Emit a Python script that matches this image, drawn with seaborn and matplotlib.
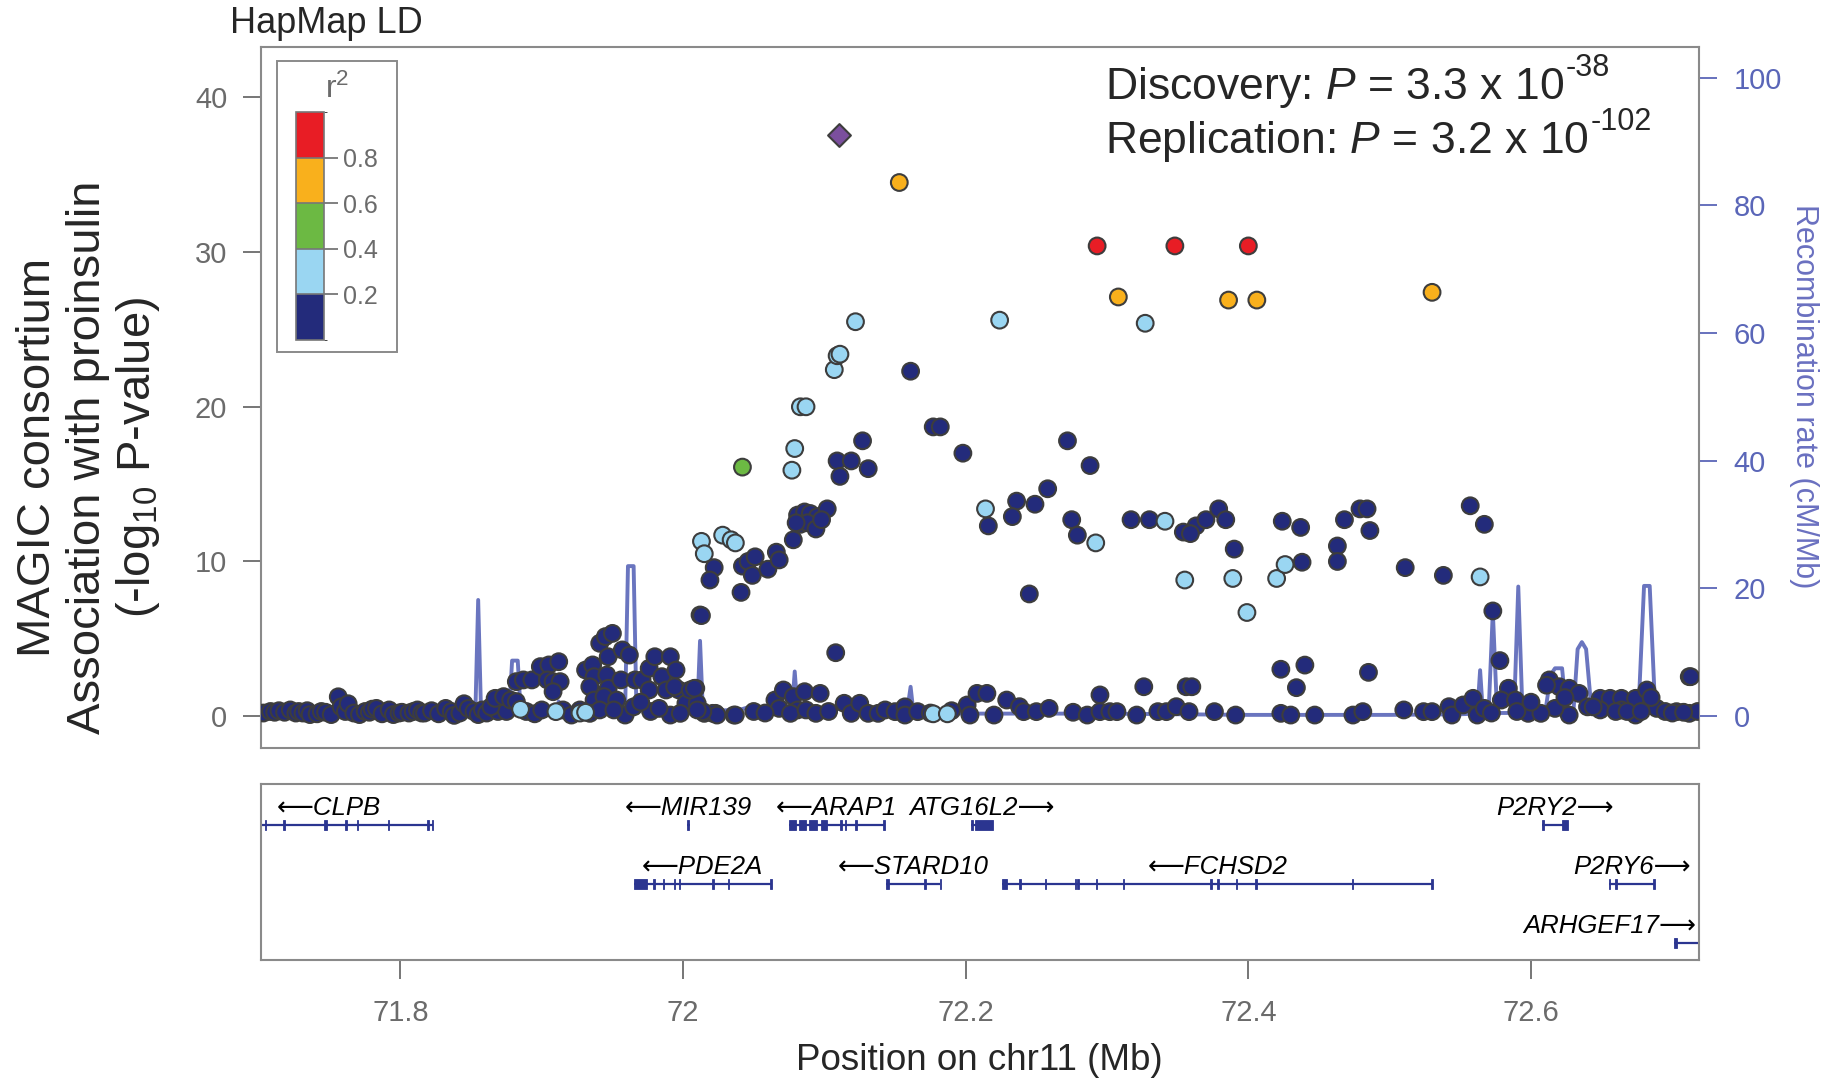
import pandas as pd
import seaborn as sns
import matplotlib.pyplot as plt
from matplotlib.colors import ListedColormap, BoundaryNorm
from matplotlib.cm import ScalarMappable
from matplotlib.patches import Rectangle

# LD (r2) classes and their colours
ld_labels = ["<0.2", "0.2-0.4", "0.4-0.6", "0.6-0.8", ">0.8"]
ld_colors = ["#232b7b", "#9ad6f2", "#6cb943", "#f9b01c", "#e81d25"]
ld_breaks = [0.0, 0.2, 0.4, 0.6, 0.8, 1.0]

# (position Mb, -log10 P)
snps_low_left = [
    (71.703, 0.2), (71.708, 0.3), (71.711, 0.25), (71.714, 0.35), (71.718, 0.25), (71.722, 0.4),
    (71.726, 0.2), (71.728, 0.3), (71.731, 0.2), (71.734, 0.35), (71.736, 0.1), (71.741, 0.15),
    (71.744, 0.3), (71.747, 0.25), (71.751, 0.1), (71.756, 1.25), (71.758, 0.6), (71.761, 0.3),
    (71.763, 0.8), (71.767, 0.2), (71.771, 0.1), (71.775, 0.3), (71.778, 0.25), (71.780, 0.45),
    (71.783, 0.5), (71.787, 0.15), (71.792, 0.4), (71.795, 0.1), (71.799, 0.2), (71.801, 0.25),
    (71.806, 0.2), (71.809, 0.3), (71.812, 0.4), (71.815, 0.2), (71.817, 0.2), (71.822, 0.35),
    (71.827, 0.15), (71.832, 0.5), (71.836, 0.3), (71.838, 0.05), (71.842, 0.2), (71.845, 0.8),
    (71.848, 0.5), (71.852, 0.3), (71.855, 0.1), (71.858, 0.4), (71.861, 0.2), (71.866, 0.5),
    (71.869, 0.3), (71.871, 0.8), (71.875, 0.3),
]
snps_low_mid = [
    (71.864, 0.6), (71.867, 1.15), (71.873, 1.26), (71.878, 1.04), (71.882, 0.94), (71.882, 2.23),
    (71.887, 2.34), (71.893, 2.34), (71.899, 3.2), (71.905, 3.31), (71.912, 3.52), (71.904, 2.34),
    (71.908, 2.23), (71.913, 2.23), (71.908, 1.58), (71.915, 0.4), (71.921, 0.07), (71.927, 0.4),
    (71.889, 0.3), (71.895, 0.15), (71.900, 0.4),
    (71.931, 2.98), (71.936, 3.31), (71.937, 2.55), (71.934, 1.9), (71.946, 2.66), (71.947, 1.8),
    (71.956, 2.34), (71.937, 1.04), (71.944, 1.26), (71.953, 1.04), (71.966, 2.34), (71.971, 2.34),
    (71.976, 1.69), (71.976, 3.09), (71.980, 3.84), (71.985, 2.55), (71.991, 3.84), (71.995, 2.98),
    (71.988, 1.69), (71.997, 1.69), (72.009, 1.8), (72.002, 0.83), (72.010, 0.83), (71.941, 4.71),
    (71.945, 5.14), (71.950, 5.35), (71.947, 3.84), (71.957, 4.28), (71.962, 3.95), (71.959, 0.07),
    (71.977, 0.3), (71.991, 0.07), (71.998, 0.18), (72.015, 0.18), (72.023, 0.18), (72.036, 0.07),
    (71.934, 0.18), (71.941, 0.4), (71.951, 0.4), (71.994, 1.9), (72.005, 1.69), (72.008, 1.8),
    (71.965, 0.6), (71.970, 0.9), (71.983, 0.5),
]
snps_low_right = [
    (72.012, 6.54), (72.108, 4.1), (72.065, 1.04), (72.071, 1.69), (72.078, 1.26), (72.086, 1.58),
    (72.097, 1.47), (72.081, 0.4), (72.068, 0.5), (72.076, 0.18), (72.087, 0.4), (72.094, 0.18),
    (72.114, 0.83), (72.119, 0.18), (72.125, 0.83), (72.131, 0.18), (72.138, 0.18), (72.143, 0.4),
    (72.150, 0.29), (72.157, 0.6), (72.157, 0.07), (72.166, 0.29), (72.037, 0.07), (72.021, 0.18),
    (72.024, 0.07), (72.014, 0.29), (72.010, 0.4), (72.201, 0.72), (72.203, 0.07), (72.208, 1.47),
    (72.215, 1.47), (72.220, 0.07), (72.229, 1.04), (72.238, 0.61), (72.241, 0.29), (72.250, 0.29),
    (72.259, 0.5), (72.276, 0.25), (72.286, 0.07), (72.295, 1.37), (72.295, 0.29), (72.302, 0.29),
    (72.307, 0.29), (72.321, 0.07), (72.326, 1.9), (72.336, 0.29), (72.342, 0.29), (72.349, 0.61),
    (72.356, 1.9), (72.360, 1.9), (72.358, 0.29), (72.376, 0.29), (72.391, 0.07), (72.423, 3.03),
    (72.440, 3.3), (72.434, 1.84), (72.423, 0.18), (72.430, 0.07), (72.447, 0.07), (72.474, 0.07),
    (72.481, 0.29), (72.485, 2.83), (72.510, 0.4), (72.524, 0.29), (72.530, 0.29), (72.542, 0.61),
    (72.544, 0.07), (72.552, 0.72), (72.559, 1.15), (72.562, 0.07), (72.578, 3.59), (72.584, 1.8),
    (72.579, 1.04), (72.589, 1.04), (72.598, 0.18), (72.613, 2.34), (72.620, 1.9), (72.627, 1.8),
    (72.634, 1.47), (72.627, 0.07), (72.649, 1.15), (72.656, 1.15), (72.664, 1.15), (72.674, 1.15),
    (72.682, 1.69), (72.649, 0.4), (72.664, 0.4), (72.674, 0.07), (72.689, 0.5), (72.703, 0.29),
    (72.712, 2.55), (72.712, 0.18), (72.617, 0.5), (72.607, 0.18), (72.567, 0.5), (72.572, 0.2),
    (72.590, 0.3), (72.640, 0.6), (72.695, 0.3), (72.718, 0.3), (72.050, 0.3), (72.058, 0.2),
    (72.103, 0.3), (72.175, 0.2), (72.190, 0.35), (72.600, 0.9), (72.611, 2.0), (72.624, 1.2),
    (72.644, 0.6), (72.660, 0.3), (72.668, 0.3), (72.678, 0.3), (72.685, 1.2), (72.700, 0.2),
    (72.708, 0.25),
]
snps_low_peak = [
    (72.161, 22.3), (72.177, 18.7), (72.182, 18.7), (72.198, 17.0), (72.127, 17.8), (72.109, 16.5),
    (72.119, 16.5), (72.111, 15.5), (72.131, 16.0), (72.272, 17.8), (72.288, 16.2), (72.258, 14.7),
    (72.236, 13.9), (72.249, 13.7), (72.233, 12.9), (72.216, 12.3), (72.275, 12.7), (72.279, 11.7),
    (72.317, 12.7), (72.330, 12.7), (72.245, 7.9), (72.354, 11.9), (72.363, 12.3), (72.359, 11.8),
    (72.370, 12.7), (72.379, 13.4), (72.384, 12.7), (72.390, 10.8), (72.424, 12.6), (72.437, 12.2),
    (72.438, 9.95), (72.463, 11.0), (72.463, 10.0), (72.468, 12.7), (72.479, 13.4), (72.484, 13.4),
    (72.486, 12.0), (72.511, 9.6), (72.538, 9.1), (72.557, 13.6), (72.567, 12.4), (72.573, 6.8),
    (72.713, 2.55), (72.022, 9.6), (72.019, 8.8), (72.041, 8.0), (72.042, 9.7), (72.046, 10.0),
    (72.051, 10.3), (72.049, 9.1), (72.060, 9.5), (72.066, 10.6), (72.068, 10.1), (72.078, 11.4),
    (72.013, 6.5), (72.081, 13.0), (72.086, 13.2), (72.090, 13.1), (72.095, 12.9), (72.102, 13.4),
    (72.083, 12.4), (72.088, 12.5), (72.094, 12.1), (72.080, 12.5), (72.098, 12.7),
]
snps_r2_02 = [
    (72.013, 11.3), (72.015, 10.5), (72.028, 11.7), (72.034, 11.4), (72.037, 11.2), (72.077, 15.9),
    (72.079, 17.3), (72.083, 20.0), (72.087, 20.0), (72.107, 22.4), (72.109, 23.3), (72.111, 23.4),
    (72.122, 25.5), (72.224, 25.6), (72.214, 13.4), (72.292, 11.2), (72.327, 25.4), (72.341, 12.6),
    (72.355, 8.8), (72.389, 8.9), (72.399, 6.7), (72.420, 8.9), (72.426, 9.8), (72.564, 9.0),
    (71.885, 0.44), (71.910, 0.29), (71.927, 0.2), (71.931, 0.25), (72.177, 0.15), (72.187, 0.15),
]
snps_r2_04 = [(72.042, 16.1)]
snps_r2_06 = [(72.153, 34.5), (72.308, 27.1), (72.386, 26.9), (72.406, 26.9), (72.530, 27.4)]
snps_r2_08 = [(72.293, 30.4), (72.348, 30.4), (72.400, 30.4)]
lead_snp = [(72.110, 37.6)]

# recombination rate (cM/Mb)
recomb = [
    (71.700, 0.4), (71.720, 0.3), (71.750, 0.4), (71.780, 0.3), (71.810, 0.5), (71.840, 0.4),
    (71.853, 0.5), (71.855, 18.2), (71.857, 0.8), (71.870, 0.6), (71.877, 0.8), (71.879, 8.7),
    (71.883, 8.7), (71.885, 1.0), (71.895, 1.4), (71.899, 0.8), (71.910, 0.8), (71.912, 2.3),
    (71.914, 0.6), (71.935, 0.4), (71.955, 0.6), (71.959, 1.2), (71.961, 23.5), (71.965, 23.5),
    (71.967, 1.2), (71.990, 0.6), (72.010, 0.6), (72.012, 11.8), (72.014, 0.8), (72.040, 1.0),
    (72.048, 1.5), (72.060, 0.6), (72.077, 0.8), (72.079, 7.0), (72.081, 1.0), (72.100, 1.2),
    (72.130, 1.0), (72.155, 0.8), (72.159, 1.5), (72.161, 4.6), (72.163, 0.6), (72.200, 0.4),
    (72.300, 0.4), (72.400, 0.2), (72.500, 0.2), (72.550, 0.3), (72.562, 0.4), (72.564, 7.2),
    (72.566, 0.4), (72.570, 0.5), (72.573, 16.4), (72.576, 0.5), (72.588, 0.5), (72.591, 20.3),
    (72.594, 0.5), (72.610, 0.5), (72.614, 6.5), (72.617, 7.5), (72.622, 7.5), (72.625, 0.6),
    (72.630, 0.6), (72.633, 10.5), (72.636, 11.6), (72.639, 10.5), (72.643, 0.5), (72.676, 0.5),
    (72.680, 20.4), (72.684, 20.4), (72.688, 0.5), (72.719, 0.4),
]

# genes in the region
gene_names = ["CLPB", "MIR139", "ARAP1", "ATG16L2", "P2RY2",
              "PDE2A", "STARD10", "FCHSD2", "P2RY6", "ARHGEF17"]
gene_start = [71.675, 72.003, 72.075, 72.204, 72.608, 71.965, 72.1435, 72.226, 72.655, 72.701]
gene_end = [71.823, 72.005, 72.142, 72.219, 72.626, 72.063, 72.182, 72.530, 72.688, 72.760]
gene_row = [0, 0, 0, 0, 0, 1, 1, 1, 1, 2]
gene_strand = ["-", "-", "-", "+", "+", "-", "-", "-", "+", "+"]
gene_exons = [
    [(71.704, 71.704), (71.717, 71.717), (71.746, 71.748), (71.761, 71.761), (71.769, 71.769),
     (71.791, 71.791), (71.819, 71.819), (71.822, 71.823)],
    [(72.003, 72.004)],
    [(72.075, 72.080), (72.082, 72.087), (72.089, 72.095), (72.0975, 72.102), (72.111, 72.111),
     (72.1145, 72.1145), (72.122, 72.122), (72.1415, 72.1415)],
    [(72.204, 72.204), (72.2065, 72.219)],
    [(72.608, 72.608), (72.622, 72.626)],
    [(71.965, 71.9745), (71.979, 71.979), (71.9855, 71.9855), (71.9935, 71.9935), (71.997, 71.997),
     (72.0205, 72.0205), (72.0315, 72.0315), (72.0615, 72.063)],
    [(72.1435, 72.1455), (72.1705, 72.1705), (72.1815, 72.1815)],
    [(72.226, 72.229), (72.238, 72.238), (72.256, 72.256), (72.277, 72.277), (72.279, 72.279),
     (72.292, 72.292), (72.311, 72.311), (72.373, 72.374), (72.378, 72.378), (72.391, 72.391),
     (72.405, 72.405), (72.473, 72.473), (72.5295, 72.531)],
    [(72.655, 72.655), (72.6595, 72.661), (72.6865, 72.688)],
    [(72.701, 72.703)],
]

# association text, main part and exponent
p_lines = ["Discovery: $\\it{P}$ = 3.3 x 10", "Replication: $\\it{P}$ = 3.2 x 10"]
p_exponents = ["-38", "-102"]

x_range = (71.7011, 72.7188)
grey = "#6b6b6b"
frame_grey = "#8a8a8a"
recomb_blue = "#5a66b8"
gene_blue = "#2b3590"

sns.set_style("white")
plt.rcParams["font.family"] = ["Liberation Sans", "DejaVu Sans"]
plt.rcParams["mathtext.fontset"] = "custom"
plt.rcParams["mathtext.rm"] = "Liberation Sans"
plt.rcParams["mathtext.it"] = "Liberation Sans:italic"

fig = plt.figure(figsize=(18.41, 10.81), dpi=100)
ax = fig.add_axes([0.1416, 0.3082, 0.7812, 0.6483])
gax = fig.add_axes([0.1416, 0.1117, 0.7812, 0.1629])
ax2 = ax.twinx()

# recombination line (behind the points)
rec_df = pd.DataFrame(recomb, columns=["pos", "rate"])
sns.lineplot(data=rec_df, x="pos", y="rate", ax=ax2, color=recomb_blue, lw=2.8,
             alpha=0.9, estimator=None, sort=True)
ax2.set_ylim(-4.96, 104.8)
ax2.set_yticks([0, 20, 40, 60, 80, 100])
ax2.tick_params(axis="y", colors=recomb_blue, labelsize=21, length=13, width=1.3, pad=12)
ax2.set_ylabel("")
ax2.set_xlabel("")
for s in ax2.spines.values():
    s.set_visible(False)

ax.set_zorder(ax2.get_zorder() + 1)
ax.patch.set_visible(False)

# association points
groups = [snps_low_left + snps_low_mid + snps_low_right + snps_low_peak,
          snps_r2_02, snps_r2_04, snps_r2_06, snps_r2_08]
frames = []
for lab, pts in zip(ld_labels, groups):
    d = pd.DataFrame(pts, columns=["pos", "logp"])
    d["r2"] = lab
    frames.append(d)
snp_df = pd.concat(frames, ignore_index=True)
sns.scatterplot(data=snp_df, x="pos", y="logp", hue="r2", hue_order=ld_labels,
                palette=dict(zip(ld_labels, ld_colors)), s=145, edgecolor="#3d3d3d",
                linewidth=1.5, legend=False, ax=ax, zorder=3)
lead_df = pd.DataFrame(lead_snp, columns=["pos", "logp"])
sns.scatterplot(data=lead_df, x="pos", y="logp", marker="D", color="#7b4f9e", s=135,
                edgecolor="#3d3d3d", linewidth=1.5, legend=False, ax=ax, zorder=4)

ax.set_xlim(x_range)
ax2.set_xlim(x_range)
ax.set_ylim(-2.05, 43.26)
ax.set_yticks([0, 10, 20, 30, 40])
ax.set_xticks([])
ax.set_xlabel("")
ax.set_ylabel("")
ax.tick_params(axis="y", colors=grey, labelsize=21, length=13, width=1.3, pad=11, left=True)
for s in ax.spines.values():
    s.set_visible(True)
    s.set_color(frame_grey)
    s.set_linewidth(1.5)

# gene track
for name, st, en, row, strand, exons in zip(gene_names, gene_start, gene_end,
                                            gene_row, gene_strand, gene_exons):
    gax.hlines(row, st, en, color=gene_blue, lw=1.6)
    for e0, e1 in exons:
        gax.barh(row, max(e1 - e0, 0.0011), left=e0, height=0.17, color=gene_blue,
                 edgecolor=gene_blue, linewidth=0.6)
    label = "\u27f5" + name if strand == "-" else name + "\u27f6"
    mid = (st + en) / 2
    t = gax.text(mid, row - 0.17, label, ha="center", va="baseline", fontsize=18.5,
                 style="italic", color="black")
    if en > x_range[1]:
        t.set_x(x_range[1] - 0.002)
        t.set_ha("right")

gax.set_xlim(x_range)
gax.set_ylim(2.286, -0.686)
gax.set_yticks([])
gax.set_xticks([71.8, 72.0, 72.2, 72.4, 72.6])
gax.set_xticklabels(["71.8", "72", "72.2", "72.4", "72.6"])
gax.tick_params(axis="x", colors=grey, labelsize=21, length=14, width=1.3, pad=14,
                bottom=True, direction="out")
for s in gax.spines.values():
    s.set_visible(True)
    s.set_color(frame_grey)
    s.set_linewidth(1.5)

# LD legend
fig.add_artist(Rectangle((0.1505, 0.6744), 0.0651, 0.2692, transform=fig.transFigure,
                         facecolor="white", edgecolor=frame_grey, lw=1.4, zorder=2))
cax = fig.add_axes([0.1608, 0.6855, 0.0152, 0.2109])
cax.set_zorder(3)
cb = fig.colorbar(ScalarMappable(norm=BoundaryNorm(ld_breaks, 5), cmap=ListedColormap(ld_colors)),
                  cax=cax, ticks=[0.2, 0.4, 0.6, 0.8], drawedges=True)
cb.outline.set_edgecolor("#777777")
cb.outline.set_linewidth(1.2)
cb.dividers.set_color("#777777")
cb.dividers.set_linewidth(1.2)
cax.tick_params(colors=grey, labelsize=18, length=10, width=1.2, pad=4)
fig.text(0.1833, 0.9176, r"r$^2$", fontsize=23, color=grey, ha="center", va="center",
         zorder=4)

# titles and labels
fig.text(0.125, 0.978, "HapMap LD", fontsize=26, ha="left", va="center")
renderer = fig.canvas.get_renderer()
for base_txt, expo, yb in zip(p_lines, p_exponents, [0.9088, 0.8588]):
    t = fig.text(0.6002, yb, base_txt, fontsize=32, ha="left", va="baseline")
    bb = t.get_window_extent(renderer=renderer).transformed(fig.transFigure.inverted())
    fig.text(bb.x1 + 0.001, yb + 0.021, expo, fontsize=22, ha="left", va="baseline")
fig.text(0.0204, 0.5768, "MAGIC consortium", fontsize=34, rotation=90, ha="center", va="center")
fig.text(0.0478, 0.5768, "Association with proinsulin", fontsize=34, rotation=90,
         ha="center", va="center")
fig.text(0.0752, 0.5768, r"(-log$_{10}$ P-value)", fontsize=34, rotation=90,
         ha="center", va="center")
fig.text(0.980, 0.6336, "Recombination rate (cM/Mb)", fontsize=22, rotation=270,
         color="#6a70c0", ha="center", va="center")
fig.text(0.532, 0.0194, "Position on chr11 (Mb)", fontsize=26.5, ha="center", va="center")

fig.savefig("out.png", dpi=100)
